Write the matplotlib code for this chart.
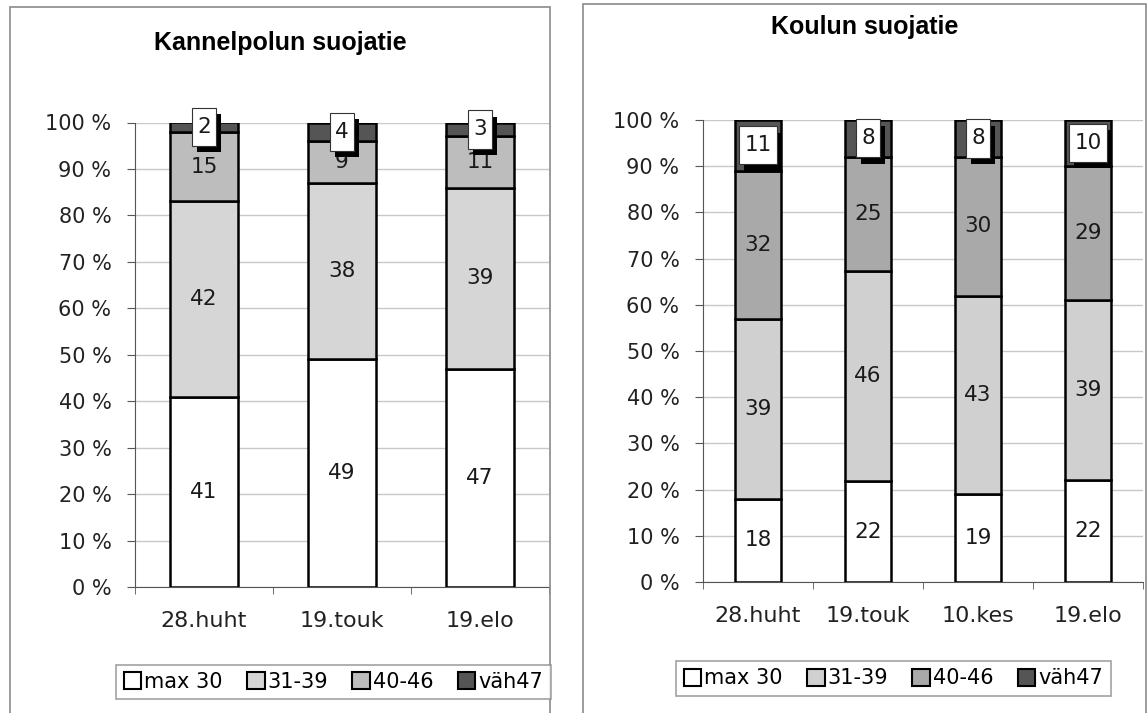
import numpy as np
import matplotlib
matplotlib.use('Agg')
import matplotlib.pyplot as plt
import matplotlib.patheffects as pe
from matplotlib.path import Path
from matplotlib.patches import Patch, Rectangle

### Data

series = ['max 30', '31-39', '40-46', 'väh47']

kannel_dates = ['28.huht', '19.touk', '19.elo']
kannel_max30 = [41, 49, 47]
kannel_31_39 = [42, 38, 39]
kannel_40_46 = [15, 9, 11]
kannel_vah47 = [2, 4, 3]

koulu_dates = ['28.huht', '19.touk', '10.kes', '19.elo']
koulu_max30 = [18, 22, 19, 22]
koulu_31_39 = [39, 46, 43, 39]
koulu_40_46 = [32, 25, 30, 29]
koulu_vah47 = [11, 8, 8, 10]

yticks = list(range(0, 101, 10))

### Style

W, H = 1147, 713
kannel_colors = ['white', '#d6d6d6', '#bdbdbd', '#555555']
koulu_colors = ['white', '#d0d0d0', '#a9a9a9', '#555555']
frame_color = '#8a8a8a'
grid_color = '#c8c8c8'


def fx(px):
    return px / W


def fy(px):
    return 1 - px / H


def tall_box(x0, y0, width, height, mutation_size):
    # excel style label box: narrow sides, tall top/bottom
    px, py = 0.24 * mutation_size, 0.42 * mutation_size
    x0, y0 = x0 - px, y0 - py
    x1, y1 = x0 + width + 2 * px, y0 + height + 2 * py
    return Path([(x0, y0), (x1, y0), (x1, y1), (x0, y1), (x0, y0)], closed=True)


def draw_panel(ax, dates, values, colors, width):
    vals = np.array(values, dtype=float)
    pct = vals / vals.sum(axis=0) * 100     # excel 100 % stacked
    x = np.arange(len(dates))
    bottom = np.zeros(len(dates))
    for i, (row, raw) in enumerate(zip(pct, vals)):
        ax.bar(x, row, width, bottom=bottom, color=colors[i], edgecolor='black',
               linewidth=1.8, zorder=3)
        for xi, b, h, r in zip(x, bottom, row, raw):
            t = ax.text(xi, b + h / 2, f'{int(r)}', ha='center', va='center',
                        fontsize=15.5, color='#1a1a1a', zorder=6)
            if i == len(pct) - 1:
                t.set_bbox(dict(boxstyle=tall_box, facecolor='white',
                                edgecolor='#333333', linewidth=0.8))
                t.get_bbox_patch().set_path_effects([
                    pe.SimplePatchShadow(offset=(3.5, -4.5), shadow_rgbFace='black', alpha=1),
                    pe.Normal()])
        bottom += row

    ax.set_xlim(-0.5, len(dates) - 0.5)
    ax.set_ylim(0, 100)
    ax.set_yticks(yticks)
    ax.set_yticklabels([f'{v} %' for v in yticks], fontsize=15, color='#222222')
    ax.set_xticks(x)
    ax.set_xticklabels(dates, fontsize=16, color='#222222')
    ax.set_xticks(np.arange(len(dates) + 1) - 0.5, minor=True)
    ax.tick_params(axis='x', which='major', length=0, pad=17)
    ax.tick_params(axis='x', which='minor', length=5, direction='out', color='#555555')
    ax.tick_params(axis='y', length=6, pad=11, color='#555555')
    ax.yaxis.grid(True, color=grid_color, linewidth=1, zorder=0)
    ax.set_axisbelow(True)
    for s in ['top', 'right']:
        ax.spines[s].set_visible(False)
    ax.spines['left'].set_color('#555555')
    ax.spines['bottom'].set_color('#555555')


fig = plt.figure(figsize=(W / 100, H / 100), dpi=100)

# panel frames
fig.add_artist(Rectangle((fx(10), -0.01), fx(540), fy(7) + 0.01, transform=fig.transFigure,
                         fill=False, edgecolor=frame_color, linewidth=1.2))
fig.add_artist(Rectangle((fx(583), -0.01), fx(563), fy(4) + 0.01, transform=fig.transFigure,
                         fill=False, edgecolor=frame_color, linewidth=1.2))

ax1 = fig.add_axes([fx(135), fy(587), fx(414), fy(122.5) - fy(587)])
draw_panel(ax1, kannel_dates, [kannel_max30, kannel_31_39, kannel_40_46, kannel_vah47],
           kannel_colors, 0.49)

ax2 = fig.add_axes([fx(703), fy(582), fx(440), fy(120) - fy(582)])
draw_panel(ax2, koulu_dates, [koulu_max30, koulu_31_39, koulu_40_46, koulu_vah47],
           koulu_colors, 0.41)

fig.text(fx(280), fy(43), 'Kannelpolun suojatie', ha='center', va='center',
         fontsize=18, fontweight='bold', family='Liberation Sans')
fig.text(fx(865), fy(27), 'Koulun suojatie', ha='center', va='center',
         fontsize=18, fontweight='bold', family='Liberation Sans')

# legends
for colors, cx, cy in [(kannel_colors, 333.5, 682), (koulu_colors, 893.5, 678.5)]:
    handles = [Patch(facecolor=c, edgecolor='black', linewidth=1.5) for c in colors]
    leg = fig.legend(handles, series, loc='center', bbox_to_anchor=(fx(cx), fy(cy)),
                     ncol=4, fontsize=15, frameon=True, fancybox=False,
                     handlelength=0.85, handleheight=0.85, handletextpad=0.15,
                     columnspacing=1.15, borderpad=0.35, borderaxespad=0)
    leg.get_frame().set_edgecolor(frame_color)
    leg.get_frame().set_linewidth(1.2)

fig.savefig('out.png', dpi=100)
